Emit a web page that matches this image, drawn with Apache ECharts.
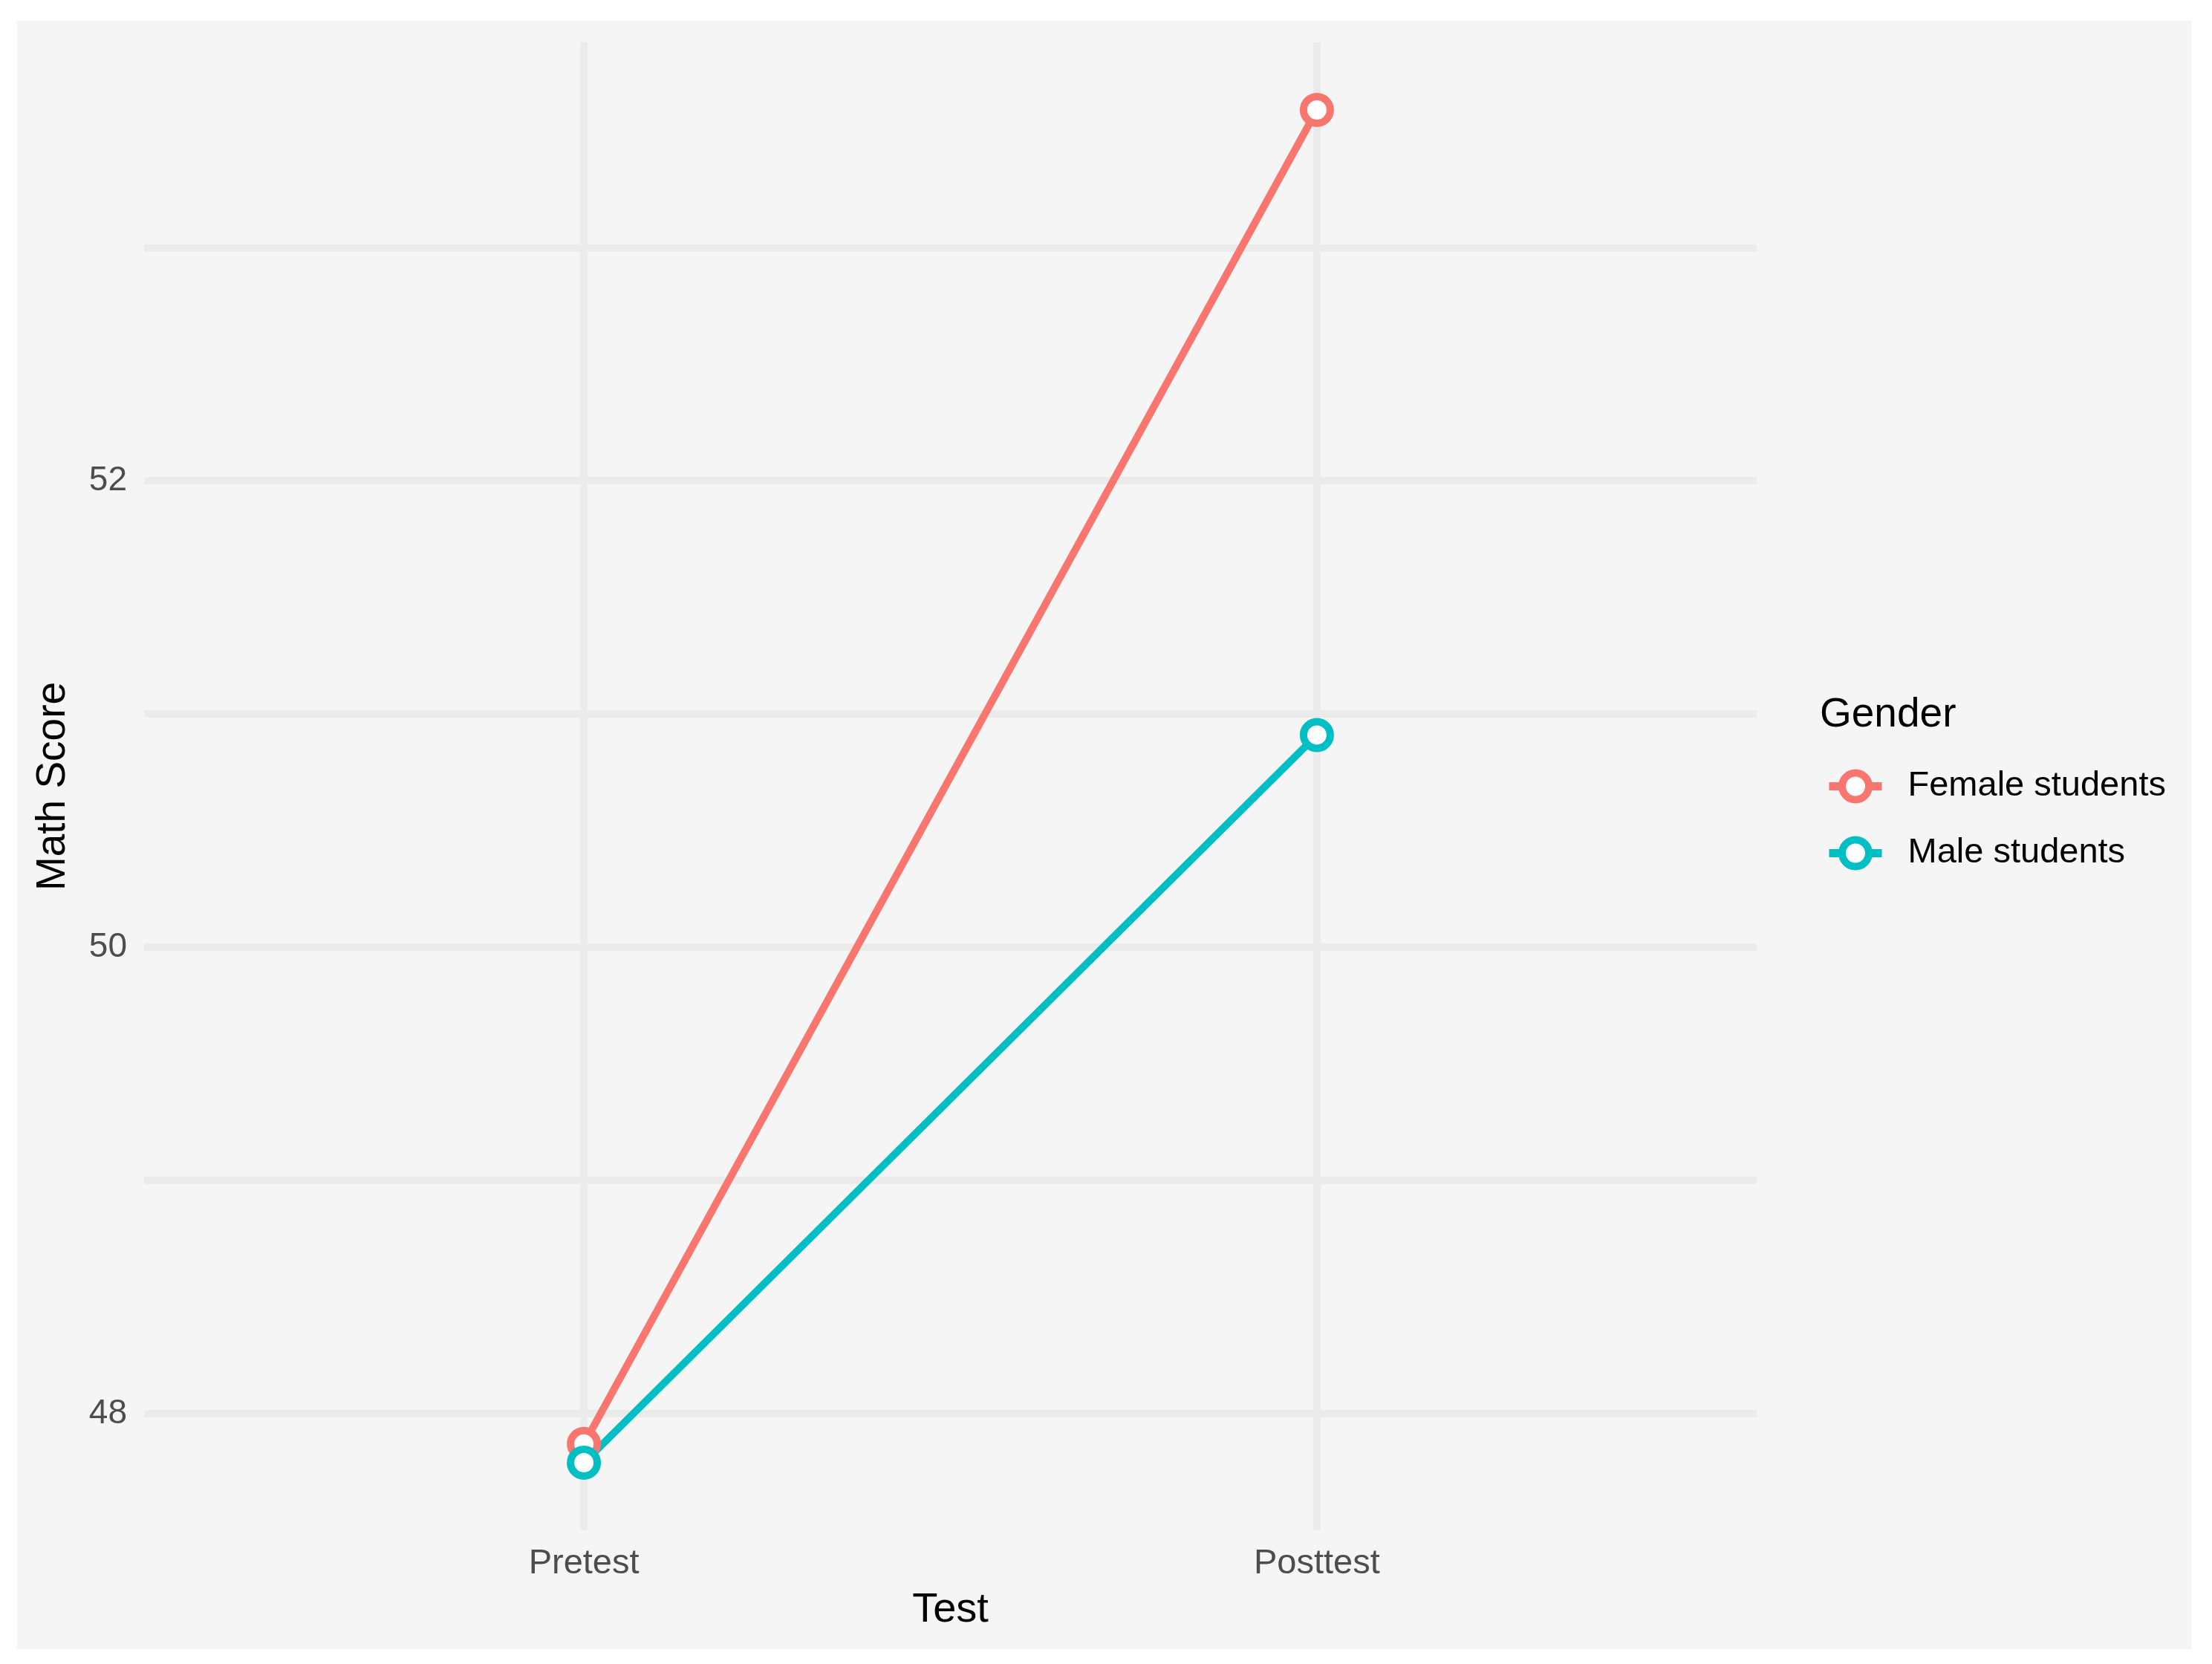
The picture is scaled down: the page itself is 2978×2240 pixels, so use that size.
<!DOCTYPE html>
<html>
<head>
<meta charset="utf-8">
<script src="https://cdn.jsdelivr.net/npm/echarts@6/dist/echarts.min.js"></script>
<style>
html,body{margin:0;padding:0;background:#fff;}
#chart{width:2978px;height:2240px;}
</style>
</head>
<body>
<div id="chart"></div>
<script>
const categories = ['Pretest', 'Posttest'];
const seriesNames = ['Female students', 'Male students'];
const femaleScores = [47.87, 53.59];
const maleScores = [47.79, 50.91];
const yTickLabels = [48, 50, 52];
const colors = ['#F8766D', '#00BFC4'];

const FONT = "'Liberation Sans', Arial, Helvetica, sans-serif";

function toPoints(values) {
  return values.map((v, i) => [i + 1, v]);
}

function makeSeries(name, values, color) {
  return {
    name: name,
    type: 'line',
    color: color,
    data: toPoints(values),
    symbol: 'circle',
    symbolSize: 36,
    lineStyle: { color: color, width: 10 },
    itemStyle: { color: '#ffffff', borderColor: color, borderWidth: 10 },
    emphasis: { disabled: true },
    animation: false
  };
}

const chart = echarts.init(document.getElementById('chart'), null, { renderer: 'canvas' });

chart.setOption({
  backgroundColor: '#ffffff',
  animation: false,
  graphic: {
    elements: [
      {
        type: 'rect', z: -100, silent: true,
        shape: { x: 23, y: 28, width: 2927, height: 2192 },
        style: { fill: '#f5f5f5' }
      },
      {
        type: 'text', z: 100, silent: true,
        x: 2450, y: 963,
        style: { text: 'Gender', fill: '#000000', font: "55px " + FONT, textVerticalAlign: 'middle', verticalAlign: 'middle' }
      }
    ]
  },
  grid: { left: 194, right: 613, top: 57, bottom: 180, containLabel: false },
  legend: {
    data: seriesNames,
    orient: 'vertical',
    left: 2457,
    top: 1035,
    padding: 0,
    itemWidth: 71,
    itemHeight: 45,
    itemGap: 43,
    selectedMode: false,
    lineStyle: { width: 11 },
    itemStyle: { borderWidth: 10 },
    textStyle: { fontFamily: FONT, fontSize: 47, color: '#000000', padding: [0, 0, 0, 30] }
  },
  xAxis: {
    type: 'value',
    min: 0.4,
    max: 2.6,
    minInterval: 1,
    maxInterval: 1,
    name: 'Test',
    nameLocation: 'middle',
    nameGap: 80,
    nameTextStyle: { fontFamily: FONT, fontSize: 56, color: '#000000' },
    axisLine: { show: false },
    axisTick: { show: false },
    axisLabel: {
      fontFamily: FONT, fontSize: 47, color: '#4d4d4d', margin: 22,
      showMinLabel: false, showMaxLabel: false,
      formatter: function (v) {
        const idx = Math.round(v) - 1;
        if (Math.abs(v - Math.round(v)) > 1e-6 || idx < 0 || idx >= categories.length) return '';
        return categories[idx];
      }
    },
    splitLine: { show: true, showMinLine: false, showMaxLine: false, lineStyle: { color: '#ebebeb', width: 10 } }
  },
  yAxis: {
    type: 'value',
    min: 47.5,
    max: 53.88,
    minInterval: 1,
    maxInterval: 1,
    name: 'Math Score',
    nameLocation: 'middle',
    nameGap: 95,
    nameTextStyle: { fontFamily: FONT, fontSize: 55, color: '#000000' },
    axisLine: { show: false },
    axisTick: { show: false },
    axisLabel: {
      fontFamily: FONT, fontSize: 46, color: '#4d4d4d', margin: 23,
      showMinLabel: false, showMaxLabel: false,
      formatter: function (v) {
        return yTickLabels.some(t => Math.abs(t - v) < 1e-6) ? String(v) : '';
      }
    },
    splitLine: { show: true, showMinLine: false, showMaxLine: false, lineStyle: { color: '#ebebeb', width: 10 } }
  },
  series: [
    makeSeries(seriesNames[0], femaleScores, colors[0]),
    makeSeries(seriesNames[1], maleScores, colors[1])
  ]
});
</script>
</body>
</html>
